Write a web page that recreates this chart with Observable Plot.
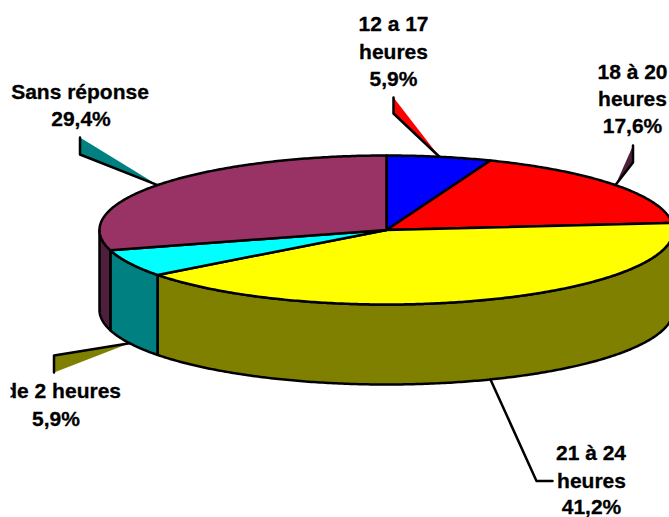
<!DOCTYPE html>
<html><head><meta charset="utf-8">
<style>html,body{margin:0;padding:0;background:#fff}svg{display:block}</style>
<script src="https://cdn.jsdelivr.net/npm/d3@7"></script>
<script src="https://cdn.jsdelivr.net/npm/@observablehq/plot@0.6"></script>
</head><body><div id="chart"></div>
<script>
// Data
const categories = ["12 a 17 heures", "18 à 20 heures", "21 à 24 heures", "de 2 heures", "Sans réponse"];
const shares = [5.9, 17.6, 41.2, 5.9, 29.4];
const topColors = ["#0000ff", "#ff0000", "#ffff00", "#00ffff", "#993366"];
const sideColors = ["#000080", "#800000", "#808000", "#008080", "#4d1f3d"];
const shareLabels = ["5,9%", "17,6%", "41,2%", "5,9%", "29,4%"];

// Layout of the tilted pie, in page units
const cx = 386, cy = 229.5, rx = 287, ry = 74.5, depth = 80;
const W = 669, H = 517;
const total = d3.sum(shares);
const cum = d3.cumsum(shares);
const ang = i => [(i ? cum[i - 1] : 0) / total * 2 * Math.PI, cum[i] / total * 2 * Math.PI];
const rim = (t, dz = 0) => ({x: cx + rx * Math.sin(t), y: cy - ry * Math.cos(t) + dz});
const arc = (a, b, dz = 0) => {
  const n = Math.max(2, Math.ceil((b - a) / 0.01));
  return d3.range(n + 1).map(k => rim(a + (b - a) * k / n, dz));
};

const marks = [];
const shape = (pts, fill, sw = 2.5) => marks.push(Plot.line(pts, {x: "x", y: "y", fill, stroke: "#000", strokeWidth: sw, strokeLinejoin: "round", curve: "linear"}));

// Side walls of the visible front half
shares.forEach((_, i) => {
  let [a, b] = ang(i);
  a = Math.max(a, Math.PI / 2); b = Math.min(b, 3 * Math.PI / 2);
  if (b <= a) return;
  const up = arc(a, b), down = arc(a, b, depth).reverse();
  shape([...up, ...down, up[0]], sideColors[i]);
});
// Top faces
shares.forEach((_, i) => {
  const [a, b] = ang(i);
  const c = {x: cx, y: cy};
  shape([c, ...arc(a, b), c], topColors[i]);
});

// Leaders: each ends at the rim at the slice's middle angle
const leaderFill = ["#ff0000", "#4d1f3d", null, "#808000", "#008080"];
const leaderRoot = [[393, 97, 113], [632.5, 145, 162], null, [53.5, 355, 372], [79.5, 137, 154]];
const tip = i => { const [a, b] = ang(i), m = (a + b) / 2; return rim(m, Math.cos(m) < 0 ? depth : 0); };
[0, 1, 4, 3].forEach(i => {
  const [x, y1, y2] = leaderRoot[i], t = tip(i);
  const p1 = {x, y: y1}, p2 = {x, y: y2};
  marks.push(Plot.line([p1, t, p2, p1], {x: "x", y: "y", fill: leaderFill[i], stroke: "none"}));
  const edge = i === 3 ? [p2, p1, t] : [p1, p2, t];
  marks.push(Plot.line(edge, {x: "x", y: "y", stroke: "#000", strokeWidth: 2.5, strokeLinejoin: "round"}));
});
const t2 = tip(2);
marks.push(Plot.line([t2, {x: 536, y: 480.5}, {x: 552, y: 480.5}], {x: "x", y: "y", stroke: "#000", strokeWidth: 2.5, strokeLinejoin: "round"}));

// Labels
const labelRows = [
  {text: "12 a 17", x: 393, y: 24}, {text: "heures", x: 393, y: 51.5}, {text: shareLabels[0], x: 393, y: 79},
  {text: "18 à 20", x: 632, y: 71.5}, {text: "heures", x: 632, y: 99}, {text: shareLabels[1], x: 632, y: 126},
  {text: "21 à 24", x: 590.5, y: 452.5}, {text: "heures", x: 591, y: 480.5}, {text: shareLabels[2], x: 591, y: 507},
  {text: shareLabels[3], x: 55.5, y: 418.5},
  {text: "Sans réponse", x: 79.5, y: 91.5}, {text: shareLabels[4], x: 80.5, y: 118.5}
];
const textOpts = {x: "x", y: "y", text: "text", fontFamily: "Liberation Sans, Arial, sans-serif", fontWeight: "bold", fontSize: 21, fill: "#000", stroke: "#000", strokeWidth: 0.3};
marks.push(Plot.text(labelRows, textOpts));
marks.push(Plot.text([{text: categories[3], x: 120.5, y: 391}], {...textOpts, textAnchor: "end"}));
// The reference's label box cuts the first letter of this label
marks.push(Plot.rect([{x1: 0, x2: 10.5, y1: 375, y2: 405}], {x1: "x1", x2: "x2", y1: "y1", y2: "y2", fill: "#fff"}));

const chart = Plot.plot({
  width: W, height: H, margin: 0,
  style: {background: "#fff"},
  x: {axis: null, domain: [0, W], range: [0, W]},
  y: {axis: null, domain: [0, H], range: [0, H]},
  marks
});
document.getElementById("chart").append(chart);
</script></body></html>
